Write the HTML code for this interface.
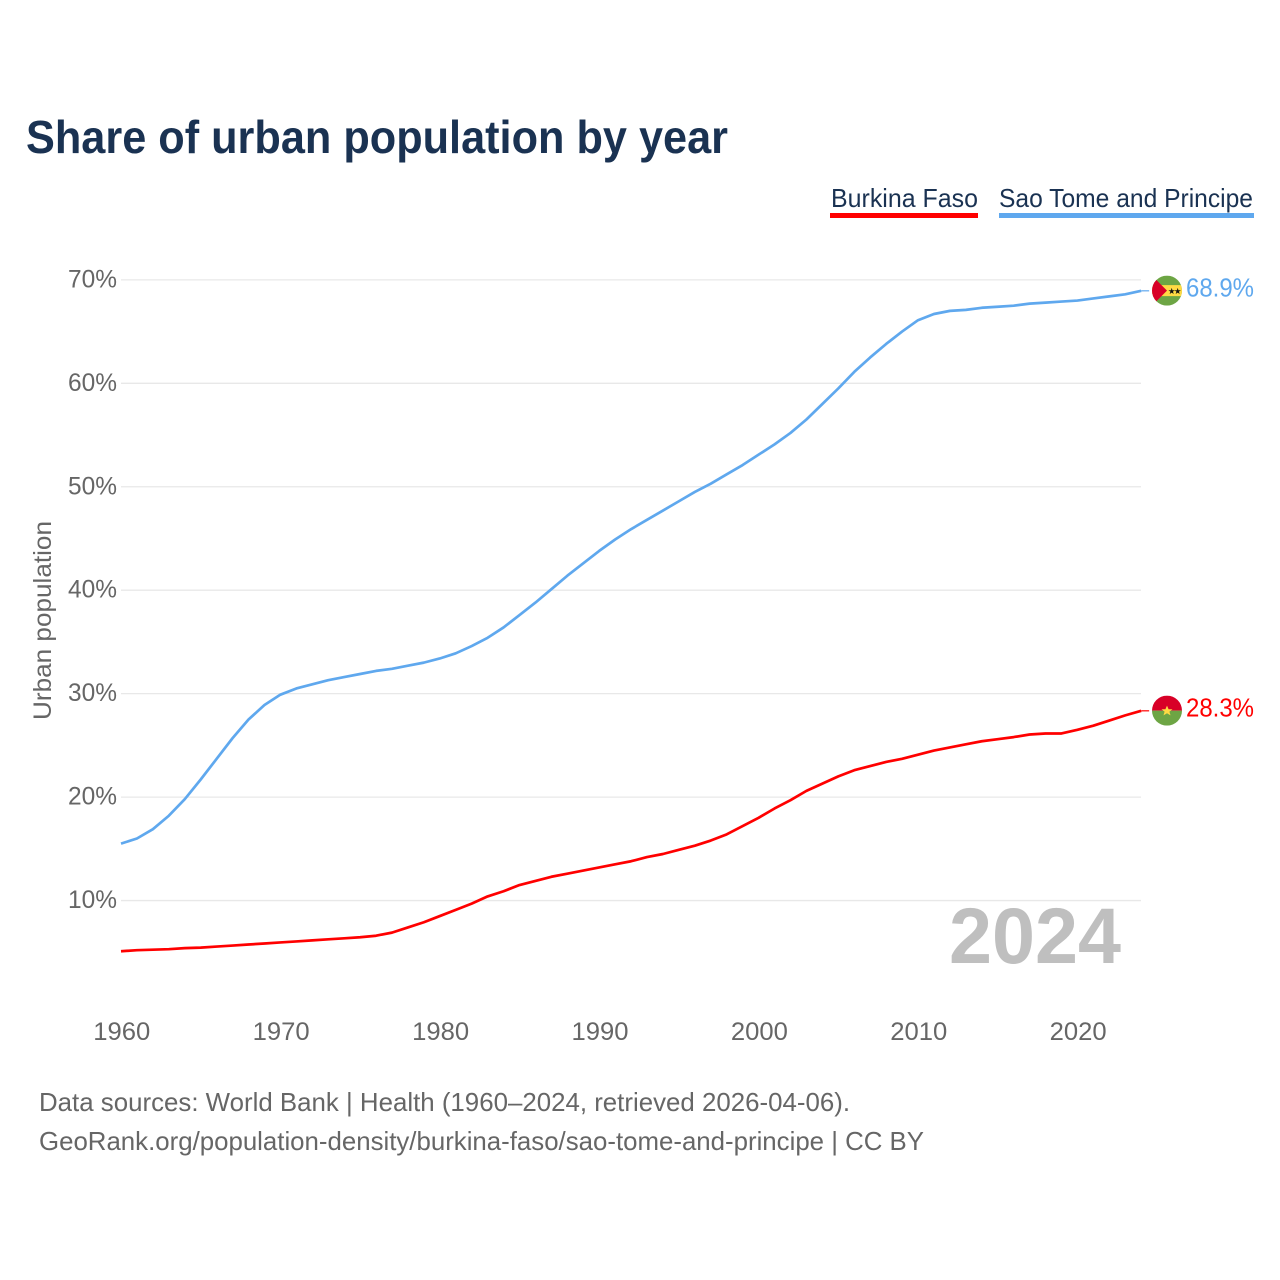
<!DOCTYPE html>
<html lang="en">
<head>
<meta charset="utf-8">
<title>Share of urban population by year</title>
<style>
html,body{margin:0;padding:0;background:#fff;width:1280px;height:1280px;overflow:hidden}
svg{display:block}
text{font-family:"Liberation Sans",sans-serif}
</style>
</head>
<body>
<svg id="chart" width="1280" height="1280" viewBox="0 0 1280 1280" xmlns="http://www.w3.org/2000/svg">
  <text x="26" y="153" font-size="46" font-weight="700" fill="#1a3252" textLength="702" lengthAdjust="spacingAndGlyphs">Share of urban population by year</text>

  <g>
    <text x="831" y="207" font-size="26" fill="#1a3252" textLength="147" lengthAdjust="spacingAndGlyphs">Burkina Faso</text>
    <rect x="830" y="213" width="148" height="5" fill="#ff0000"/>
  </g>
  <g>
    <text x="999" y="207" font-size="26" fill="#1a3252" textLength="254" lengthAdjust="spacingAndGlyphs">Sao Tome and Principe</text>
    <rect x="999" y="213" width="255" height="5" fill="#5fa8ee"/>
  </g>

  <g id="grid"></g>
  <g id="yticks"></g>
  <g id="xticks"></g>

  <text transform="translate(51,620.5) rotate(-90)" text-anchor="middle" font-size="25" fill="#666666" textLength="199" lengthAdjust="spacingAndGlyphs">Urban population</text>

  <text x="949" y="963" font-size="79" font-weight="700" fill="#bfbfbf" textLength="172" lengthAdjust="spacingAndGlyphs">2024</text>

  <g id="series"></g>

  <g id="flag-stp">
    <clipPath id="clip-stp"><circle cx="0" cy="0" r="15"/></clipPath>
    <g clip-path="url(#clip-stp)">
      <rect x="-15" y="-15" width="30" height="30" fill="#6da544"/>
      <rect x="-15" y="-5.5" width="30" height="11" fill="#ffda44"/>
      <polygon points="-15,-15 0,0 -15,15" fill="#d80027"/>
      <text x="4.7" y="3.6" font-size="8.5" fill="#111" text-anchor="middle" font-family="DejaVu Sans">★</text>
      <text x="10.7" y="3.6" font-size="8.5" fill="#111" text-anchor="middle" font-family="DejaVu Sans">★</text>
    </g>
  </g>
  <g id="flag-bf">
    <clipPath id="clip-bf"><circle cx="0" cy="0" r="15"/></clipPath>
    <g clip-path="url(#clip-bf)">
      <rect x="-15" y="-15" width="30" height="15" fill="#d80027"/>
      <rect x="-15" y="0" width="30" height="15" fill="#6da544"/>
      <polygon points="0,-5 1.6,-1.4 5.5,-1.4 2.4,1 3.5,4.8 0,2.6 -3.5,4.8 -2.4,1 -5.5,-1.4 -1.6,-1.4" fill="#ffda44"/>
    </g>
  </g>

  <text id="value-stp" x="1186" font-size="26" fill="#5fa8ee" textLength="68" lengthAdjust="spacingAndGlyphs"></text>
  <text id="value-bf" x="1186" font-size="26" fill="#ff0000" textLength="68" lengthAdjust="spacingAndGlyphs"></text>

  <text x="39" y="1111" font-size="26" fill="#666666" textLength="811" lengthAdjust="spacingAndGlyphs">Data sources: World Bank | Health (1960–2024, retrieved 2026-04-06).</text>
  <text x="39" y="1150" font-size="26" fill="#666666" textLength="885" lengthAdjust="spacingAndGlyphs">GeoRank.org/population-density/burkina-faso/sao-tome-and-principe | CC BY</text>
</svg>

<script>
const startYear = 1960;
const yTickValues = [10, 20, 30, 40, 50, 60, 70];
const xTickValues = [1960, 1970, 1980, 1990, 2000, 2010, 2020];
const burkinaFaso = [5.1,5.2,5.25,5.3,5.4,5.45,5.55,5.65,5.75,5.85,5.95,6.05,6.15,6.25,6.35,6.45,6.6,6.9,7.4,7.9,8.5,9.1,9.7,10.4,10.9,11.5,11.9,12.3,12.6,12.9,13.2,13.5,13.8,14.2,14.5,14.9,15.3,15.8,16.4,17.2,18.0,18.9,19.7,20.6,21.3,22.0,22.6,23.0,23.4,23.7,24.1,24.5,24.8,25.1,25.4,25.6,25.8,26.05,26.15,26.15,26.5,26.9,27.4,27.9,28.34];
const saoTome = [15.5,16.0,16.9,18.2,19.8,21.7,23.7,25.7,27.5,28.9,29.9,30.5,30.9,31.3,31.6,31.9,32.2,32.4,32.7,33.0,33.4,33.9,34.6,35.4,36.4,37.6,38.8,40.1,41.4,42.6,43.8,44.9,45.9,46.8,47.7,48.6,49.5,50.3,51.2,52.1,53.1,54.1,55.2,56.5,58.0,59.5,61.1,62.5,63.8,65.0,66.1,66.7,67.0,67.1,67.3,67.4,67.5,67.7,67.8,67.9,68.0,68.2,68.4,68.6,68.94];

const NS = 'http://www.w3.org/2000/svg';
function xScale(year) { return 121 + (year - 1960) * 15.94; }
function yScale(v) { return 1004 - v * 10.345; }
function make(tag, parent, attrs) {
  const el = document.createElementNS(NS, tag);
  for (const k in attrs) el.setAttribute(k, attrs[k]);
  parent.appendChild(el);
  return el;
}

const gridG = document.getElementById('grid');
const yG = document.getElementById('yticks');
yTickValues.forEach(function (v) {
  const line = make('line', gridG, { x1: 121, x2: 1141, y1: yScale(v), y2: yScale(v), stroke: '#e8e8e8', 'stroke-width': 1.3 });
  
  
  const t = make('text', yG, { x: 117, y: yScale(v) + 7.5, 'text-anchor': 'end', 'font-size': 25, fill: '#666666', textLength: 49, lengthAdjust: 'spacingAndGlyphs' });
  t.textContent = v + '%';
  
  
});

const xG = document.getElementById('xticks');
xTickValues.forEach(function (yr) {
  const t = make('text', xG, { x: xScale(yr) + 0.8, y: 1040, 'text-anchor': 'middle', 'font-size': 25, fill: '#666666', textLength: 57, lengthAdjust: 'spacingAndGlyphs' });
  t.textContent = String(yr);
  
  
});

function linePath(values) {
  const pts = values.map(function (v, i) { return xScale(startYear + i).toFixed(2) + ',' + yScale(v).toFixed(2); });
  return 'M' + pts.join('L');
}
function connectorPath(values) {
  const lastX = xScale(startYear + values.length - 1);
  const lastY = yScale(values[values.length - 1]);
  return 'M' + lastX.toFixed(2) + ',' + lastY.toFixed(2) + 'L' + (lastX + 8).toFixed(2) + ',' + lastY.toFixed(2);
}

const seriesG = document.getElementById('series');
const pathStp = make('path', seriesG, { d: linePath(saoTome), fill: 'none', stroke: '#5fa8ee', 'stroke-width': 2.7, 'stroke-linejoin': 'round' });


const connStp = make('path', seriesG, { d: connectorPath(saoTome), fill: 'none', stroke: '#5fa8ee', 'stroke-width': 1.2 });


const pathBf = make('path', seriesG, { d: linePath(burkinaFaso), fill: 'none', stroke: '#ff0000', 'stroke-width': 2.7, 'stroke-linejoin': 'round' });


const connBf = make('path', seriesG, { d: connectorPath(burkinaFaso), fill: 'none', stroke: '#ff0000', 'stroke-width': 1.2 });



const lastStp = saoTome[saoTome.length - 1];
const lastBf = burkinaFaso[burkinaFaso.length - 1];
document.getElementById('flag-stp').setAttribute('transform', 'translate(1167,' + (yScale(lastStp) - 0.2) + ')');
document.getElementById('flag-bf').setAttribute('transform', 'translate(1167,' + (yScale(lastBf) - 0.2) + ')');
const vStp = document.getElementById('value-stp');
vStp.setAttribute('y', yScale(lastStp) + 5.5);
vStp.textContent = lastStp.toFixed(1) + '%';
const vBf = document.getElementById('value-bf');
vBf.setAttribute('y', yScale(lastBf) + 5.5);
vBf.textContent = lastBf.toFixed(1) + '%';
</script>
</body>
</html>
